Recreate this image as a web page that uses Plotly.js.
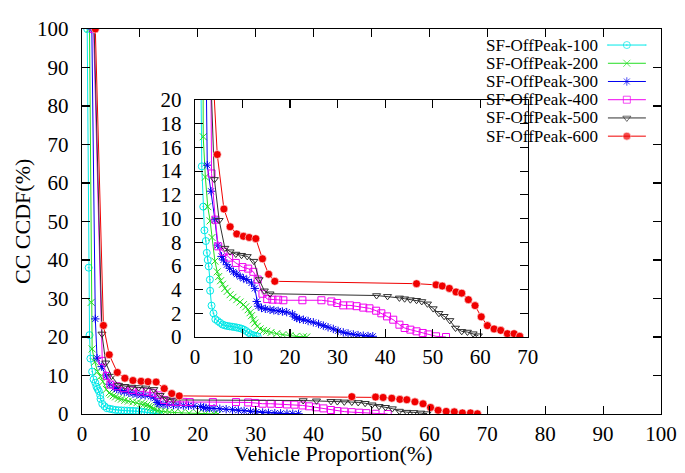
<!DOCTYPE html>
<html><head><meta charset="utf-8">
<script src="https://cdn.plot.ly/plotly-3.0.1.min.js"></script>
<style>body{margin:0;background:#fff}#chart{width:685px;height:473px}</style>
</head><body><div id="chart"></div>
<script>
const seriesNames = ["SF-OffPeak-100","SF-OffPeak-200","SF-OffPeak-300","SF-OffPeak-400","SF-OffPeak-500","SF-OffPeak-600"];
const colors = ["#00e8e8","#22dd22","#0000f0","#f000f0","#303030","#f00000"];
const symbols = ["circle-open-dot","x-thin-open","asterisk-open","square-open","triangle-down-open","circle"];

const x100 = [0.9,1.15,1.3,1.45,1.75,2.0,2.3,2.5,2.7,2.9,3.15,3.2,3.5,3.9,4.3,4.8,5.3,5.8,6.3,6.8,7.3,7.8,8.3,8.8,9.3,9.8,10.3,10.8,11.3,11.8,12.3,12.8,13.2];
const y100 = [100,38,20.5,14.4,11.0,9.0,8.1,7.1,6.5,5.96,4.84,3.9,2.65,2.0,1.5,1.35,1.2,1.05,0.98,0.93,0.9,0.87,0.84,0.8,0.76,0.7,0.62,0.5,0.35,0.22,0.15,0.1,0.05];

const x200 = [1.3,1.6,1.75,2.2,2.7,3.2,3.6,4.2,4.7,5.0,5.4,5.8,6.3,6.8,7.4,8.0,8.8,9.5,10.2,10.7,11.2,11.6,11.9,12.3,12.6,13.1,13.7,14.4,15.1,16.0,17.2,18.5,20.0,21.3,22.8,23.5];
const y200 = [100,29,16.9,13.5,11.0,9.8,8.4,6.4,5.5,5.1,4.75,4.45,4.1,3.85,3.57,3.35,3.15,2.95,2.73,2.55,2.3,2.05,1.8,1.45,1.18,0.9,0.68,0.55,0.48,0.38,0.28,0.2,0.11,0.05,0.02,0.0];

const x300 = [1.7,2.3,2.6,3.4,4.2,4.8,5.6,6.0,6.7,7.3,8.1,8.8,9.5,10.2,10.9,11.9,12.6,13.0,13.3,14.0,14.8,15.8,16.6,17.5,18.4,19.3,20.5,21.0,21.4,22.0,22.8,23.8,24.9,26.0,27.0,28.0,29.1,30.1,31.2,32.2,33.3,34.3,35.4,36.4,37.4];
const y300 = [100,24.7,14.5,12.3,9.9,7.75,6.8,6.5,6.1,5.8,5.5,5.3,5.1,4.95,4.84,4.56,4.1,3.0,2.6,2.45,2.38,2.3,2.25,2.2,2.15,2.1,1.94,1.7,1.6,1.52,1.46,1.35,1.24,1.1,0.96,0.82,0.68,0.52,0.39,0.3,0.22,0.16,0.11,0.08,0.06];

const x400 = [2.0,3.5,4.3,4.9,6.0,7.2,8.6,10.0,11.2,12.3,13.2,14.2,15.2,16.3,17.5,18.6,22.6,26.6,28.7,29.9,31.2,32.6,34.0,35.4,36.7,38.1,39.2,40.4,41.7,43.0,44.1,45.3,46.6,47.9,49.1,50.7,52.8];
const y400 = [100,13.8,9.9,7.65,7.2,6.7,6.25,5.9,5.77,5.5,4.85,3.65,3.2,3.15,3.15,3.1,3.1,3.1,3.0,2.87,2.67,2.67,2.6,2.48,2.42,2.22,2.0,1.74,1.46,1.04,0.76,0.62,0.48,0.34,0.22,0.06,0.0];

const x500 = [2.1,3.45,4.1,5.1,6.3,7.4,8.6,9.8,11.0,12.4,13.5,14.6,15.8,38.2,40.5,43.0,44.1,45.3,46.6,47.7,48.9,50.1,51.3,52.4,53.6,54.8,56.1,57.3,58.5,59.6];
const y500 = [100,20.8,13.3,9.85,7.5,7.2,7.0,6.9,6.8,6.4,4.85,3.9,3.65,3.5,3.43,3.3,3.23,3.15,3.1,3.0,2.8,2.4,2.0,1.75,1.4,0.76,0.48,0.42,0.28,0.11];

const x600 = [2.3,3.7,4.7,6.1,7.4,8.8,10.2,11.4,12.8,14.2,15.5,16.8,46.6,50.7,52.0,53.5,54.9,56.1,57.5,58.9,60.2,61.5,62.9,64.3,65.7,67.1,68.3];
const y600 = [100,23,15.4,10.8,9.3,8.7,8.5,8.4,8.3,6.6,5.3,4.7,4.5,4.4,4.3,4.1,3.8,3.7,3.15,2.65,1.7,0.96,0.68,0.56,0.28,0.28,0.06];

const xs = [x100,x200,x300,x400,x500,x600];
const ys = [y100,y200,y300,y400,y500,y600];

const xTicks = [0,10,20,30,40,50,60,70,80,90,100];
const yTicks = [0,10,20,30,40,50,60,70,80,90,100];
const insetXTicks = [0,10,20,30,40,50,60,70];
const insetYTicks = [0,2,4,6,8,10,12,14,16,18,20];
const legendSampleX = [0, 0.5, 1];
const xTitle = "Vehicle Proportion(%)";
const yTitle = "CC CCDF(%)";

function mk(i, size) {
  return {symbol: symbols[i], size: size, color: colors[i],
          line: {color: i === 5 ? "#ffffff" : colors[i], width: i === 5 ? 0.6 : 1}};
}
const traces = [];
for (let i = 0; i < 6; i++) {
  traces.push({x: xs[i], y: ys[i], name: seriesNames[i], type: "scatter", mode: "lines+markers",
    xaxis: "x", yaxis: "y", showlegend: false, line: {color: colors[i], width: 1}, marker: mk(i, i === 5 ? 8 : 7)});
}
for (let i = 0; i < 6; i++) {
  traces.push({x: xs[i], y: ys[i], name: seriesNames[i], type: "scatter", mode: "lines+markers",
    xaxis: "x2", yaxis: "y2", showlegend: false, cliponaxis: true,
    line: {color: colors[i], width: 1}, marker: mk(i, i === 5 ? 8 : 7)});
}
// key samples (gnuplot-style key: text, then sample)
for (let i = 0; i < 6; i++) {
  const m = mk(i, legendSampleX.map((v, k) => k === 1 ? (i === 5 ? 8 : 7) : 0));
  traces.push({x: legendSampleX, y: legendSampleX.map(() => i), name: seriesNames[i], type: "scatter",
    mode: "lines+markers", xaxis: "x3", yaxis: "y3", showlegend: false, cliponaxis: false,
    line: {color: colors[i], width: 1}, marker: m});
}

const FAM = "Liberation Serif";
const axisCommon = {
  showgrid: false, zeroline: false, showline: true, linecolor: "#000", linewidth: 1.3,
  mirror: "allticks", ticks: "inside", ticklen: 8, tickwidth: 1.1, tickcolor: "#000",
  tickfont: {family: FAM, size: 21, color: "#000"}, tickmode: "array"
};
const annotations = seriesNames.map((n, i) => ({
  text: n, xref: "paper", yref: "y3", x: 0.8946, y: i, xanchor: "right", yanchor: "middle",
  showarrow: false, font: {family: FAM, size: 17, color: "#000"}
}));
annotations.push({text: xTitle, xref: "paper", yref: "paper", x: 0.435, y: -0.1013,
  xanchor: "center", yanchor: "middle", showarrow: false, font: {family: FAM, size: 22, color: "#000"}});
annotations.push({text: yTitle, xref: "paper", yref: "paper", x: -0.1036, y: 0.4987, textangle: -90,
  xanchor: "center", yanchor: "middle", showarrow: false, font: {family: FAM, size: 22, color: "#000"}});

const layout = {
  width: 685, height: 473,
  margin: {l: 82, r: 24, t: 29, b: 59},
  paper_bgcolor: "#fff", plot_bgcolor: "#fff",
  font: {family: FAM, color: "#000"},
  showlegend: false,
  annotations: annotations,
  xaxis: Object.assign({}, axisCommon, {domain: [0, 1], range: [0, 100], tickvals: xTicks}),
  yaxis: Object.assign({}, axisCommon, {domain: [0, 1], range: [0, 100], tickvals: yTicks, ticklabelstandoff: 8}),
  xaxis2: Object.assign({}, axisCommon, {domain: [0.195, 0.770], range: [0, 70], tickvals: insetXTicks, anchor: "y2"}),
  yaxis2: Object.assign({}, axisCommon, {domain: [0.2, 0.8156], range: [0, 20], tickvals: insetYTicks, anchor: "x2", ticklabelstandoff: 8}),
  xaxis3: {domain: [0.908, 0.974], range: [0, 1], visible: false, anchor: "y3", fixedrange: true},
  yaxis3: {domain: [0.698, 0.982], range: [5.5, -0.5], visible: false, anchor: "x3", fixedrange: true}
};

Plotly.newPlot("chart", traces, layout, {displayModeBar: false, staticPlot: true});
</script></body></html>
